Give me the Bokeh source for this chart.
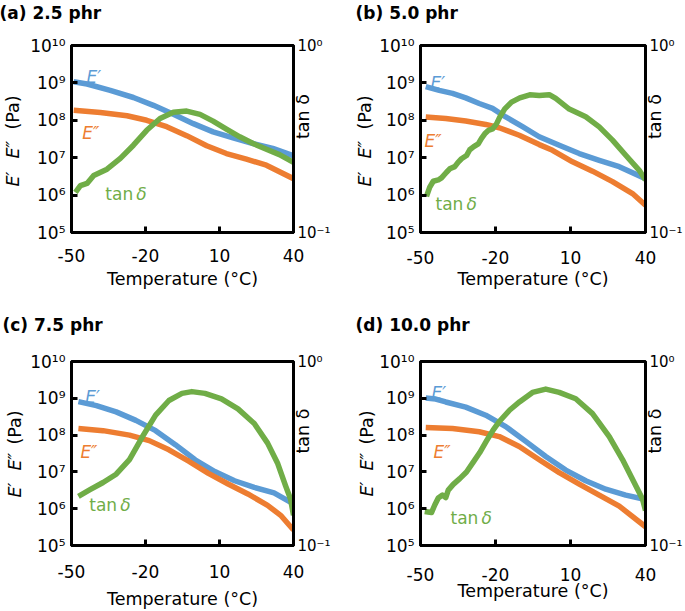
import math
from bokeh.plotting import figure
from bokeh.models import Range1d, LogAxis, LogScale, FixedTicker, Label, Title
from bokeh.layouts import gridplot
from bokeh.embed import file_html
from bokeh.resources import INLINE

FONT = "DejaVu Sans"
BLUE = "#5B9BD5"
ORANGE = "#ED7D31"
GREEN = "#70AD47"

x_ticks = [-50, -20, 10, 40]
x_tick_labels = ["-50", "-20", "10", "40"]
modulus_ticks = [1e5, 1e6, 1e7, 1e8, 1e9, 1e10]
modulus_tick_labels = ["10\u2075", "10\u2076", "10\u2077", "10\u2078", "10\u2079", "10\u00b9\u2070"]
tan_ticks = [0.1, 1.0]
tan_tick_labels = ["10\u207b\u00b9", "10\u2070"]

# ---------------- (a) 2.5 phr ----------------
a_T_storage = [-49.1, -43.7, -34.3, -24.9, -16.8, -8.7, -0.6, 7.4, 15.5, 23.6, 31.6, 40]
a_storage = [1.07e9, 9.33e8, 6.31e8, 4.07e8, 2.51e8, 1.45e8, 8.13e7, 4.90e7, 3.39e7, 2.40e7, 1.78e7, 1.12e7]
a_T_loss = [-49.1, -38.3, -27.5, -19.5, -11.4, -3.3, 4.8, 12.8, 20.9, 29.0, 40]
a_loss = [1.86e8, 1.62e8, 1.32e8, 1.00e8, 6.76e7, 3.89e7, 2.09e7, 1.29e7, 9.12e6, 6.31e6, 2.75e6]
a_T_tan = [-48.4, -46.4, -43.7, -41.0, -35.6, -30.2, -24.9, -19.5, -14.1, -8.7, -3.3, 2.1, 7.4,
           12.8, 18.2, 23.6, 29.0, 34.3, 40]
a_tan = [0.164, 0.178, 0.183, 0.202, 0.218, 0.249, 0.293, 0.352, 0.407, 0.439, 0.446, 0.428, 0.394,
         0.357, 0.325, 0.299, 0.279, 0.261, 0.237]

# ---------------- (b) 5.0 phr ----------------
b_T_storage = [-47.9, -42.5, -37.2, -31.9, -26.5, -21.2, -15.9, -9.2, -2.5, 5.5, 13.5, 21.5, 29.5, 40]
b_storage = [7.94e8, 6.31e8, 5.25e8, 3.98e8, 2.82e8, 2.09e8, 1.23e8, 6.76e7, 3.63e7, 2.14e7, 1.29e7,
             8.51e6, 5.75e6, 2.75e6]
b_T_loss = [-47.9, -39.9, -31.9, -23.9, -18.5, -10.5, -2.5, 2.8, 10.8, 18.8, 26.8, 34.8, 40]
b_loss = [1.23e8, 1.12e8, 9.55e7, 7.76e7, 6.31e7, 3.98e7, 2.24e7, 1.58e7, 7.76e6, 4.37e6, 2.29e6,
          1.10e6, 5.37e5]
b_T_tan = [-47.6, -46.3, -44.9, -42.9, -41.6, -39.6, -38.3, -36.3, -34.9, -33.6, -31.6, -30.3, -28.7,
           -26.9, -25.6, -24.3, -22.9, -21.2, -19.6, -18.3, -16.3, -13.6, -10.3, -6.3, -2.5, 1.5, 4.1,
           9.5, 16.1, 21.5, 26.8, 32.1, 37.5, 40]
b_tan = [0.156, 0.175, 0.188, 0.191, 0.196, 0.210, 0.219, 0.225, 0.238, 0.248, 0.258, 0.277, 0.288,
         0.298, 0.319, 0.337, 0.351, 0.358, 0.381, 0.414, 0.458, 0.498, 0.525, 0.545, 0.540, 0.546, 0.521,
         0.457, 0.416, 0.367, 0.312, 0.259, 0.215, 0.191]

# ---------------- (c) 7.5 phr ----------------
c_T_storage = [-47.2, -39.9, -31.9, -23.9, -15.9, -7.9, 0.1, 8.1, 16.1, 24.1, 32.1, 40]
c_storage = [8.13e8, 6.31e8, 4.27e8, 2.51e8, 1.32e8, 5.50e7, 2.14e7, 1.02e7, 5.75e6, 3.80e6, 2.69e6, 1.35e6]
c_T_loss = [-47.2, -37.2, -26.5, -18.5, -10.5, -2.5, 5.5, 13.5, 21.5, 29.5, 34.8, 40]
c_loss = [1.51e8, 1.32e8, 1.00e8, 7.08e7, 3.98e7, 1.95e7, 9.12e6, 4.68e6, 2.51e6, 1.23e6, 6.61e5, 2.63e5]
c_T_tan = [-47.2, -42.5, -37.2, -31.9, -26.5, -21.2, -15.9, -10.5, -5.2, -1.2, 4.1, 10.8, 17.5, 24.1,
           29.5, 33.5, 36.8, 38.8, 40]
c_tan = [0.185, 0.201, 0.220, 0.244, 0.293, 0.391, 0.511, 0.614, 0.671, 0.686, 0.671, 0.627, 0.553,
         0.460, 0.360, 0.281, 0.211, 0.179, 0.146]

# ---------------- (d) 10.0 phr ----------------
d_T_storage = [-47.9, -43.9, -39.9, -31.9, -23.9, -15.9, -7.9, 0.1, 8.1, 16.1, 24.1, 32.1, 40]
d_storage = [1.02e9, 9.55e8, 7.94e8, 5.75e8, 3.47e8, 1.70e8, 6.76e7, 2.63e7, 1.12e7, 5.75e6, 3.39e6,
             2.34e6, 1.78e6]
d_T_loss = [-47.9, -37.2, -26.5, -18.5, -10.5, -2.5, 5.5, 13.5, 21.5, 29.5, 40]
d_loss = [1.62e8, 1.51e8, 1.23e8, 9.12e7, 4.90e7, 2.14e7, 9.55e6, 4.68e6, 2.34e6, 1.17e6, 3.24e5]
d_T_tan = [-48.3, -45.6, -44.3, -42.9, -41.2, -39.9, -38.9, -36.9, -34.3, -31.6, -28.9, -26.3, -23.6,
           -20.9, -18.3, -14.3, -10.3, -5.2, 0.1, 5.5, 12.1, 18.8, 25.5, 30.8, 34.8, 38.8, 40]
d_tan = [0.153, 0.151, 0.166, 0.181, 0.188, 0.182, 0.200, 0.215, 0.231, 0.251, 0.284, 0.320, 0.370,
         0.425, 0.475, 0.545, 0.605, 0.679, 0.708, 0.679, 0.627, 0.521, 0.391, 0.293, 0.229, 0.179, 0.155]

titles = ["(a) 2.5 phr", "(b) 5.0 phr", "(c) 7.5 phr", "(d) 10.0 phr"]
ylabel_parts = [("E\u2032", "italic"), ("E\u2033", "italic"), ("(Pa)", "normal")]


def add_label(p, text, x, y, color, style="normal", x_offset=0):
    p.add_layout(Label(x=x, y=y, x_units="data", y_units="data", text=text,
                       text_color=color, text_font=FONT, text_font_style=style,
                       text_font_size="17px", text_align="left", text_baseline="alphabetic",
                       x_offset=x_offset))


def make_panel(title, series, geom, lay):
    W, H, L, R, T, B = geom
    p = figure(width=W, height=H, x_range=Range1d(-50, 40), y_range=Range1d(1e5, 1e10),
               y_axis_type="log", output_backend="svg", toolbar_location=None,
               min_border_left=L, min_border_right=R, min_border_top=T, min_border_bottom=B)
    p.extra_y_ranges = {"tan": Range1d(0.1, 1.0)}
    p.extra_y_scales = {"tan": LogScale()}
    right = LogAxis(y_range_name="tan", ticker=FixedTicker(ticks=tan_ticks))
    p.add_layout(right, "right")

    p.grid.visible = False
    p.outline_line_color = "black"
    p.outline_line_width = 3
    p.background_fill_color = "white"
    p.border_fill_color = "white"

    # spacer between frame and panel title
    p.add_layout(Title(text=" ", text_font_size="1px", standoff=lay["gap"]), "above")
    p.title.text = title
    p.title.align = "left"
    p.title.offset = lay["title_off"]
    p.title.standoff = 0
    p.title.text_font = FONT
    p.title.text_font_size = "17px"
    p.title.text_font_style = "bold"
    p.title.text_color = "black"

    p.xaxis.ticker = FixedTicker(ticks=x_ticks)
    p.xaxis.major_label_overrides = dict(zip(x_ticks, x_tick_labels))
    left = p.yaxis[0]
    left.ticker = FixedTicker(ticks=modulus_ticks)
    left.major_label_overrides = dict(zip(modulus_ticks, modulus_tick_labels))
    right.major_label_overrides = dict(zip(tan_ticks, tan_tick_labels))
    for ax in (p.xaxis[0], left, right):
        ax.axis_line_width = 3
        ax.axis_line_color = "black"
        ax.major_tick_line_width = 3
        ax.major_tick_line_color = "black"
        ax.major_tick_in = 6
        ax.major_tick_out = 0
        ax.minor_tick_line_color = None
        ax.major_label_text_font = FONT
        ax.major_label_text_font_size = "17px"
        ax.major_label_text_color = "black"
        ax.axis_label_text_font = FONT
        ax.axis_label_text_font_size = "17.5px"
        ax.axis_label_text_font_style = "normal"
        ax.axis_label_text_color = "black"
    right.major_label_text_font_size = "15px"
    left.major_label_standoff = 6
    right.major_label_standoff = 4
    p.xaxis.major_label_standoff = lay["xs"][0]
    p.xaxis.axis_label = "Temperature (\u00b0C)"
    p.xaxis.axis_label_standoff = lay["xs"][1]
    right.axis_label = "tan \u03b4"
    right.axis_label_standoff = -31
    try:
        right.axis_label_orientation = math.pi / 2
    except Exception:
        pass

    # left axis title "E' E'' (Pa)" with italic symbols, built from side-panel titles
    p.add_layout(Title(text=" ", text_font_size="1px", standoff=lay["ygap"]), "left")
    for (txt, style), off in zip(ylabel_parts, lay["yoff"]):
        p.add_layout(Title(text=txt, align="left", vertical_align="middle", offset=off,
                           standoff=-22, text_font=FONT, text_font_size="17.5px",
                           text_font_style=style, text_color="black"), "left")

    tS, S, tLo, Lo, tT, Tn = series
    p.line(tS, S, line_color=BLUE, line_width=5.5, line_join="round")
    p.line(tLo, Lo, line_color=ORANGE, line_width=5.5, line_join="round")
    p.line(tT, Tn, line_color=GREEN, line_width=5.5, line_join="round", y_range_name="tan")

    add_label(p, "E\u2032", lay["Ep"][0], lay["Ep"][1], BLUE, "italic")
    add_label(p, "E\u2033", lay["Epp"][0], lay["Epp"][1], ORANGE, "italic")
    add_label(p, "tan", lay["tan"][0], lay["tan"][1], GREEN)
    add_label(p, "\u03b4", lay["tan"][0], lay["tan"][1], GREEN, "italic", x_offset=31)
    return p


pa = make_panel(titles[0], (a_T_storage, a_storage, a_T_loss, a_loss, a_T_tan, a_tan),
                (342, 305, 71, 48, 45, 73),
                dict(title_off=-72, gap=20, xs=(16, 4), ygap=12, yoff=(46, 74, 103),
                     Ep=(-43.9, 1.48e9), Epp=(-45.6, 4.68e7), tan=(-36.3, 1.10e6)))
pb = make_panel(titles[1], (b_T_storage, b_storage, b_T_loss, b_loss, b_T_tan, b_tan),
                (343, 305, 78, 40, 45, 73),
                dict(title_off=-65, gap=20, xs=(18, 2), ygap=9, yoff=(46, 74, 103),
                     Ep=(-46.0, 1.02e9), Epp=(-48.4, 2.88e7), tan=(-44.0, 5.62e5)))
pc = make_panel(titles[2], (c_T_storage, c_storage, c_T_loss, c_loss, c_T_tan, c_tan),
                (342, 306, 68, 49, 56, 63),
                dict(title_off=-69, gap=24, xs=(19, 8), ygap=10, yoff=(48, 75, 101),
                     Ep=(-44.4, 1.10e9), Epp=(-46.4, 3.47e7), tan=(-42.8, 1.26e6)))
pd_ = make_panel(titles[3], (d_T_storage, d_storage, d_T_loss, d_loss, d_T_tan, d_tan),
                 (343, 306, 78, 40, 56, 63),
                 dict(title_off=-65, gap=24, xs=(22, -3), ygap=7, yoff=(49, 75, 101),
                      Ep=(-45.6, 1.38e9), Epp=(-44.8, 3.47e7), tan=(-38.0, 5.62e5)))

grid = gridplot([[pa, pb], [pc, pd_]], toolbar_location=None)

with open("out.html", "w") as f:
    f.write(file_html(grid, INLINE))
